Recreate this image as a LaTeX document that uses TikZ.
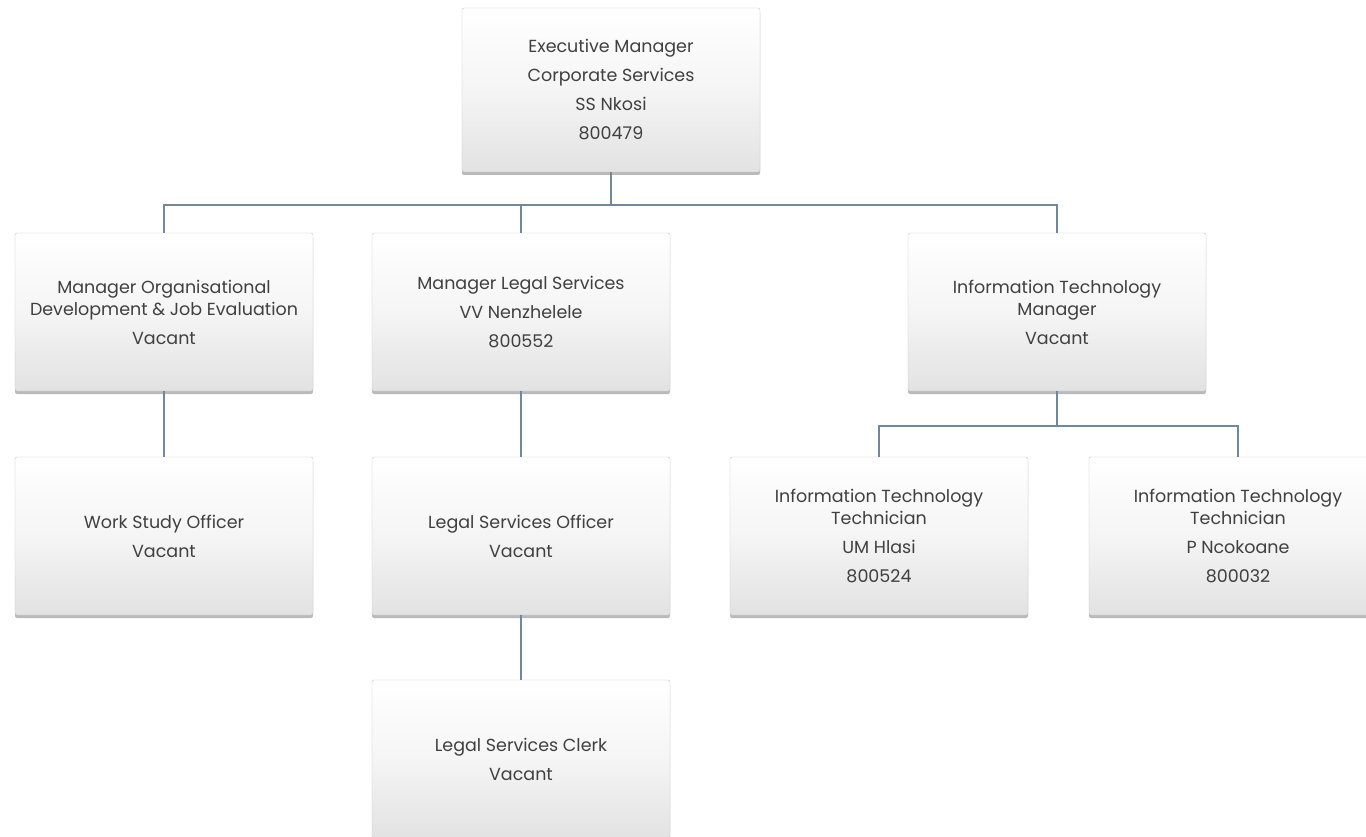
\documentclass[tikz,border=0pt]{standalone}
\usepackage{fontspec}
\setmainfont{Poppins}
\usepackage{tikz}
\usetikzlibrary{positioning,calc,shadows}
\definecolor{linkc}{HTML}{73879A}
\definecolor{boxd}{HTML}{C4C4C4}
\definecolor{boxb}{HTML}{E2E2E2}
\definecolor{txtc}{HTML}{404040}
\tikzset{
  % white-to-grey card with a soft shadow underneath
  post/.style  = {rectangle, rounded corners=2pt, draw=boxd, top color=white,
                  bottom color=boxb, middle color=white!96!black,
                  minimum width=298pt, minimum height=158pt, align=center,
                  text=txtc, font=\fontsize{17.5}{22}\selectfont,
                  drop shadow={shadow xshift=0pt, shadow yshift=-3pt, opacity=.45, fill=black!60}},
  link/.style  = {draw=linkc, line width=1.3pt},
}
\newcommand{\gap}{\\[7pt]}

\begin{document}
\begin{tikzpicture}[x=1pt,y=-1pt]
\path[use as bounding box, clip] (0,0) rectangle (1366,837);
\fill[white] (0,0) rectangle (1366,837);
% top
\node[post, minimum height=164pt] (exec) at (611,90)
  {Executive Manager\gap Corporate Services\gap SS Nkosi\gap 800479};
% managers
\node[post] (odje) at (164,312)
  {Manager Organisational\\Development \& Job Evaluation\gap Vacant};
\node[post] (legal) at (521,312)
  {Manager Legal Services\gap VV Nenzhelele\gap 800552};
\node[post] (itm) at (1057,312)
  {Information Technology\\Manager\gap Vacant};
% officers and technicians
\node[post] (wso) at (164,536) {Work Study Officer\gap Vacant};
\node[post] (lso) at (521,536) {Legal Services Officer\gap Vacant};
\node[post] (itta) at (879,536)
  {Information Technology\\Technician\gap UM Hlasi\gap 800524};
\node[post] (ittb) at (1238,536)
  {Information Technology\\Technician\gap P Ncokoane\gap 800032};
% clerk
\node[post] (lsc) at (521,759) {Legal Services Clerk\gap Vacant};
% lines
\coordinate (bus) at (611,205);
\coordinate (itbus) at (1057,426);
\draw[link] (exec.south) -- (bus);
\draw[link] (odje.north) |- (bus) -| (itm.north);
\draw[link] (legal.north) -- (legal.north |- bus);
\draw[link] (odje.south) -- (wso.north);
\draw[link] (legal.south) -- (lso.north);
\draw[link] (lso.south) -- (lsc.north);
\draw[link] (itm.south) -- (itbus);
\draw[link] (itta.north) |- (itbus) -| (ittb.north);
\end{tikzpicture}
\end{document}
